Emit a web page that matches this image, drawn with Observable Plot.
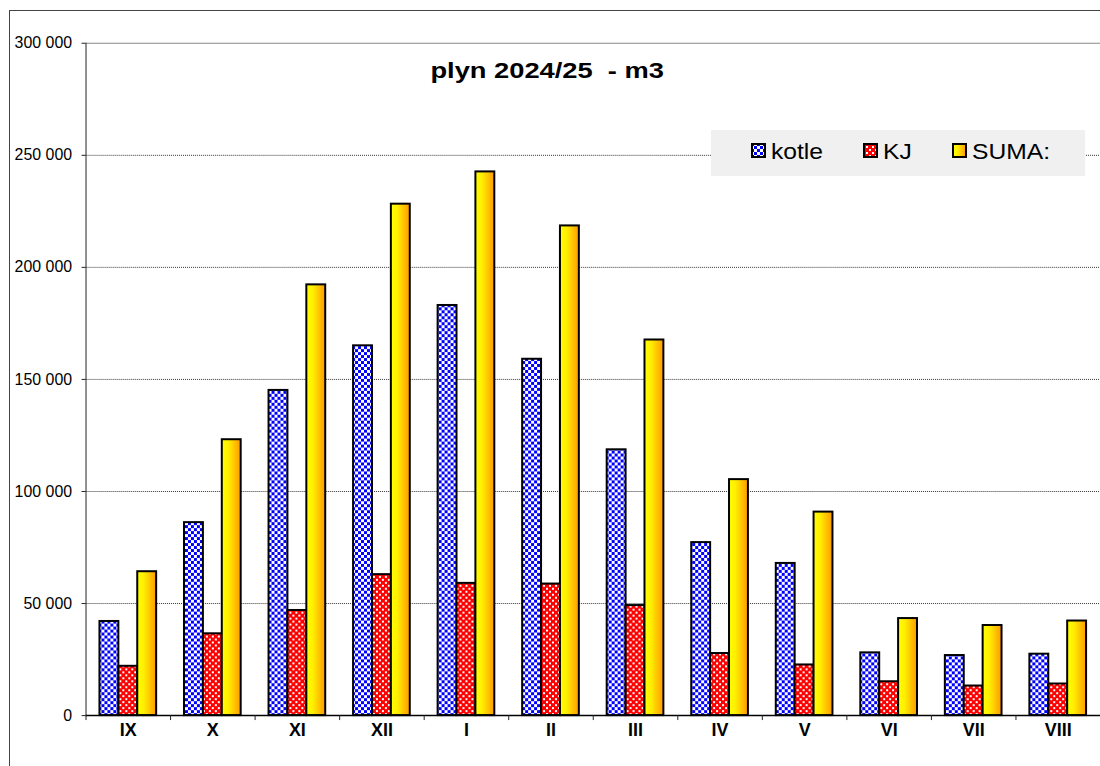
<!DOCTYPE html>
<html><head><meta charset="utf-8">
<script src="https://cdn.jsdelivr.net/npm/d3@7"></script>
<script src="https://cdn.jsdelivr.net/npm/@observablehq/plot@0.6"></script>
<style>
html,body{margin:0;padding:0;overflow:hidden;width:1100px;height:766px;background:#fff;font-family:Arial,"Liberation Sans",sans-serif;}
#frame{position:absolute;left:9px;top:10px;width:1300px;height:900px;border:1px solid #444;}
#chart{position:absolute;left:0;top:0;}
#title{position:absolute;left:347px;width:400px;top:58px;text-align:center;font-weight:bold;font-size:22px;line-height:26px;white-space:pre;}
#title span{display:inline-block;transform:scaleX(1.24);transform-origin:center;}
#legend{position:absolute;left:711px;top:130px;width:374px;height:46px;background:#f0f0f0;}
.item{position:absolute;top:0;height:46px;}
.item svg{position:absolute;top:13px;left:0;}
.item span{position:absolute;left:20px;top:9px;font-size:22px;line-height:26px;white-space:nowrap;display:inline-block;transform:scaleX(1.12);transform-origin:left center;}
</style></head>
<body>
<div id="frame"></div>
<div id="chart"></div>
<div id="title"><span>plyn 2024/25  - m3</span></div>
<div id="legend"></div>
<script>
const months = ["IX","X","XI","XII","I","II","III","IV","V","VI","VII","VIII"];
const kotle = [42000, 86100, 145100, 165000, 183000, 159000, 118600, 77200, 67900, 28000, 26800, 27400];
const kj    = [22000, 36500, 46900, 62900, 59000, 58700, 49100, 27700, 22600, 15100, 13200, 14100];
const suma  = [64200, 123100, 192200, 228200, 242600, 218500, 167600, 105300, 90800, 43300, 40200, 42200];
const yTicks = [0, 50000, 100000, 150000, 200000, 250000, 300000];
const seriesNames = ["kotle", "KJ", "SUMA:"];
const seriesFills = ["url(#pBlue)", "url(#pRed)", "url(#gYellow)"];

const W = 1106, ML = 86;
const bw = (W - ML) / months.length;
const fmt = d => d3.format(",")(d).replace(/,/g, " ");

const plot = Plot.plot({
  width: W, height: 766,
  marginLeft: ML, marginRight: 0, marginTop: 43, marginBottom: 47,
  style: {background: "transparent", fontFamily: "Arial, 'Liberation Sans', sans-serif", color: "#000", overflow: "visible"},
  x: {domain: months, padding: 0, axis: null},
  y: {domain: [0, 300000], axis: null},
  marks: [
    Plot.gridY(yTicks.filter(t => t > 0 && t < 300000), {stroke: "#333", strokeOpacity: 1, strokeDasharray: "1,1"}),
    Plot.frame({anchor: "top", stroke: "#888"}),
    Plot.barY(months, {x: d => d, y: (d, i) => kotle[i], fill: seriesFills[0], stroke: "#000", strokeWidth: 2, insetLeft: 14, insetRight: 52}),
    Plot.barY(months, {x: d => d, y: (d, i) => kj[i], fill: seriesFills[1], stroke: "#000", strokeWidth: 2, insetLeft: 33, insetRight: 33}),
    Plot.barY(months, {x: d => d, y: (d, i) => suma[i], fill: seriesFills[2], stroke: "#000", strokeWidth: 2, insetLeft: 52, insetRight: 14}),
    Plot.frame({anchor: "left", stroke: "#222"}),
    Plot.ruleY([0], {stroke: "#000", strokeWidth: 1.5}),
    Plot.axisY({ticks: yTicks, tickFormat: fmt, tickSize: 4, tickPadding: 10, stroke: "#222"}),
    Plot.axisX({tickSize: 0, tickPadding: 8}),
    Plot.axisX({tickSize: 5, tickFormat: () => "", dx: -bw / 2, stroke: "#222"})
  ]
});

const svg = d3.select(plot);
svg.selectAll("text").each(function() {
  const t = this.textContent;
  if (months.includes(t)) {
    this.setAttribute("font-size", "18");
    this.setAttribute("font-weight", "bold");
    this.style.fontSize = "18px";
    this.style.fontWeight = "bold";
  } else if (/\d/.test(t)) {
    this.setAttribute("font-size", "16");
    this.style.fontSize = "16px";
  }
});
const defs = svg.insert("defs", ":first-child");
const pb = defs.append("pattern").attr("id", "pBlue").attr("patternUnits", "userSpaceOnUse").attr("width", 6).attr("height", 6);
pb.append("rect").attr("width", 6).attr("height", 6).attr("fill", "#fff");
pb.append("rect").attr("x", 0).attr("y", 0).attr("width", 3).attr("height", 3).attr("fill", "#0000ff").attr("shape-rendering", "crispEdges");
pb.append("rect").attr("x", 3).attr("y", 3).attr("width", 3).attr("height", 3).attr("fill", "#0000ff").attr("shape-rendering", "crispEdges");
const pr = defs.append("pattern").attr("id", "pRed").attr("patternUnits", "userSpaceOnUse").attr("width", 6).attr("height", 6);
pr.append("rect").attr("width", 6).attr("height", 6).attr("fill", "#ff0000");
pr.append("rect").attr("x", 0).attr("y", 0).attr("width", 2).attr("height", 2).attr("fill", "#fff").attr("shape-rendering", "crispEdges");
pr.append("rect").attr("x", 3).attr("y", 3).attr("width", 2).attr("height", 2).attr("fill", "#fff").attr("shape-rendering", "crispEdges");
const gy = defs.append("linearGradient").attr("id", "gYellow").attr("x1", "0%").attr("x2", "100%").attr("y1", "0%").attr("y2", "0%");
gy.append("stop").attr("offset", "0%").attr("stop-color", "#ffff00");
gy.append("stop").attr("offset", "35%").attr("stop-color", "#ffee00");
gy.append("stop").attr("offset", "100%").attr("stop-color", "#ff9900");

document.getElementById("chart").appendChild(plot);

const legend = d3.select("#legend");
const lefts = [40, 152, 241];
seriesNames.forEach((name, i) => {
  const it = legend.append("div").attr("class", "item").style("left", lefts[i] + "px");
  const s = it.append("svg").attr("width", 16).attr("height", 16);
  s.append("rect").attr("x", 1).attr("y", 1).attr("width", 13).attr("height", 13)
    .attr("fill", seriesFills[i]).attr("stroke", "#000").attr("stroke-width", 2);
  it.append("span").text(name);
});
</script>
</body></html>
